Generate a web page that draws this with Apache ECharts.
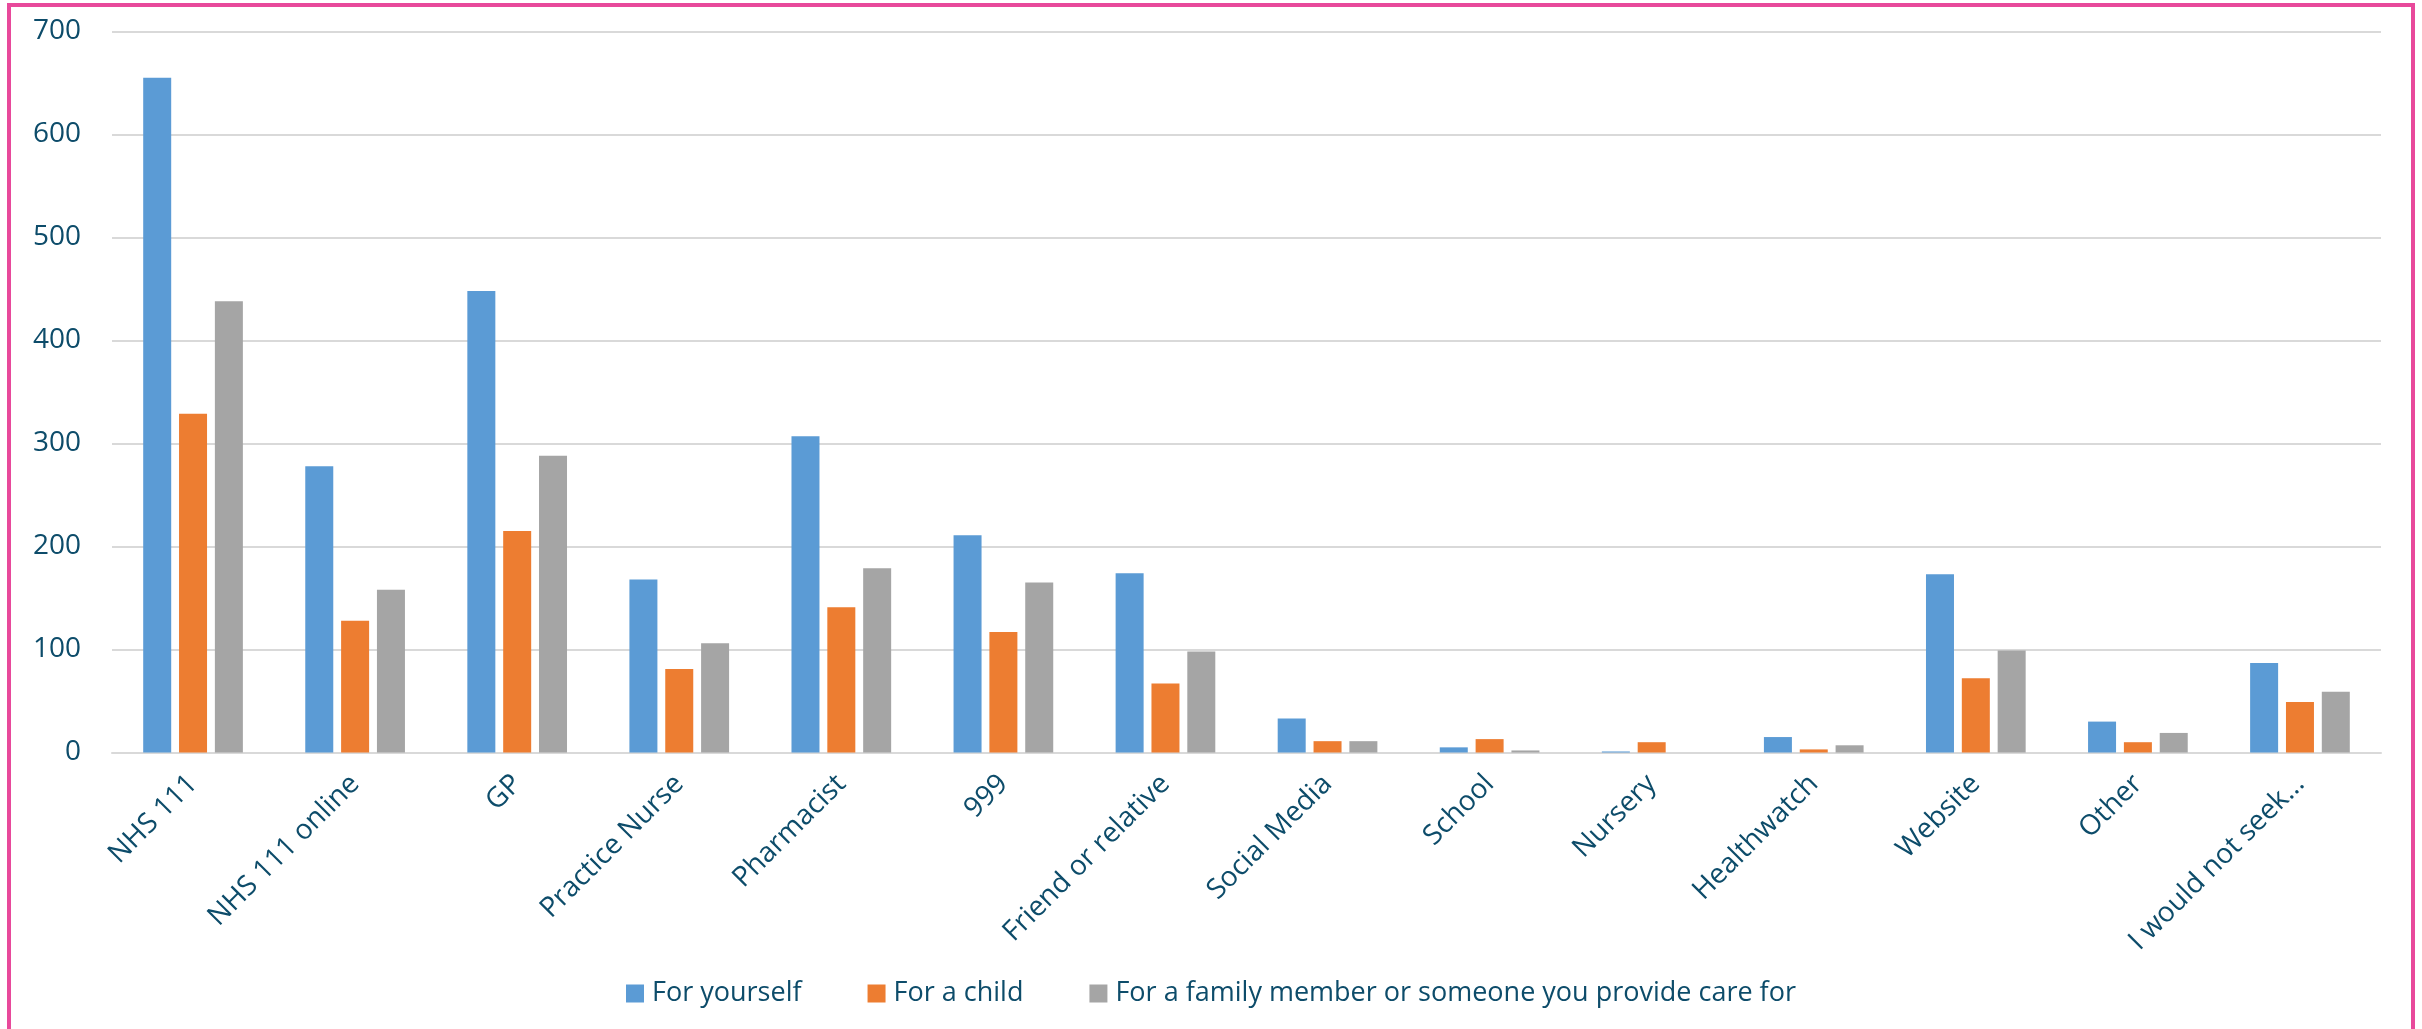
<!DOCTYPE html>
<html>
<head>
<meta charset="utf-8">
<title>Where would you seek advice</title>
<script src="https://cdn.jsdelivr.net/npm/echarts@6/dist/echarts.min.js"></script>
<style>
  html, body { margin: 0; padding: 0; background: #ffffff; overflow: hidden; }
  #chart { position: absolute; left: 0; top: 0; width: 2422px; height: 1029px; }
  #frame {
    position: absolute; left: 7px; top: 3px; width: 2400px; height: 1100px;
    border-top: 4px solid #E8499B; border-left: 4px solid #E8499B; border-right: 4px solid #E8499B;
    pointer-events: none;
  }
</style>
</head>
<body>
<div id="chart"></div>
<div id="frame"></div>
<script>
// Sources of advice
const categories = [
  'NHS 111', 'NHS 111 online', 'GP', 'Practice Nurse', 'Pharmacist', '999',
  'Friend or relative', 'Social Media', 'School', 'Nursery', 'Healthwatch',
  'Website', 'Other', 'I would not seek…'
];

// Number of responses per source
const forYourself = [655, 278, 448, 168, 307, 211, 174, 33, 5, 1, 15, 173, 30, 87];
const forAChild   = [329, 128, 215, 81, 141, 117, 67, 11, 13, 10, 3, 72, 10, 49];
const forFamily   = [438, 158, 288, 106, 179, 165, 98, 11, 2, 0, 7, 99, 19, 59];

const seriesNames = [
  'For yourself',
  'For a child',
  'For a family member or someone you provide care for'
];

const yTicks = { min: 0, max: 700, step: 100 };

const textColor = '#0D4C6A';
const fontFamily = '"Open Sans", "Noto Sans", sans-serif';

const chart = echarts.init(document.getElementById('chart'), null, { renderer: 'canvas' });

const barStyle = (color) => ({
  type: 'bar',
  barWidth: 28,
  barGap: '28%',
  itemStyle: { color: color },
  emphasis: { disabled: true }
});

chart.setOption({
  animation: false,
  color: ['#5B9BD5', '#ED7D31', '#A5A5A5'],
  textStyle: { fontFamily: fontFamily, color: textColor },
  grid: { left: 112, right: 41, top: 31.5, bottom: 276.5, containLabel: false },
  legend: {
    left: 'center',
    top: 975,
    itemWidth: 18,
    itemHeight: 18,
    itemGap: 66,
    icon: 'rect',
    textStyle: { fontSize: 27, color: textColor, fontFamily: fontFamily, padding: [0, 0, 0, 3] },
    data: seriesNames
  },
  xAxis: {
    type: 'category',
    data: categories,
    axisLine: { lineStyle: { color: '#D9D9D9', width: 2 } },
    axisTick: { show: false },
    axisLabel: {
      interval: 0,
      rotate: 45,
      margin: 27,
      padding: [16, 0, 0, 0],
      fontSize: 28,
      color: textColor,
      fontFamily: fontFamily
    }
  },
  yAxis: {
    type: 'value',
    min: yTicks.min,
    max: yTicks.max,
    interval: yTicks.step,
    axisLine: { show: false },
    axisTick: { show: false },
    axisLabel: { margin: 31, fontSize: 28, color: textColor, fontFamily: fontFamily },
    splitLine: { lineStyle: { color: '#D9D9D9', width: 2 } }
  },
  series: [
    Object.assign(barStyle('#5B9BD5'), { name: seriesNames[0], data: forYourself }),
    Object.assign(barStyle('#ED7D31'), { name: seriesNames[1], data: forAChild }),
    Object.assign(barStyle('#A5A5A5'), { name: seriesNames[2], data: forFamily })
  ]
});
</script>
</body>
</html>
